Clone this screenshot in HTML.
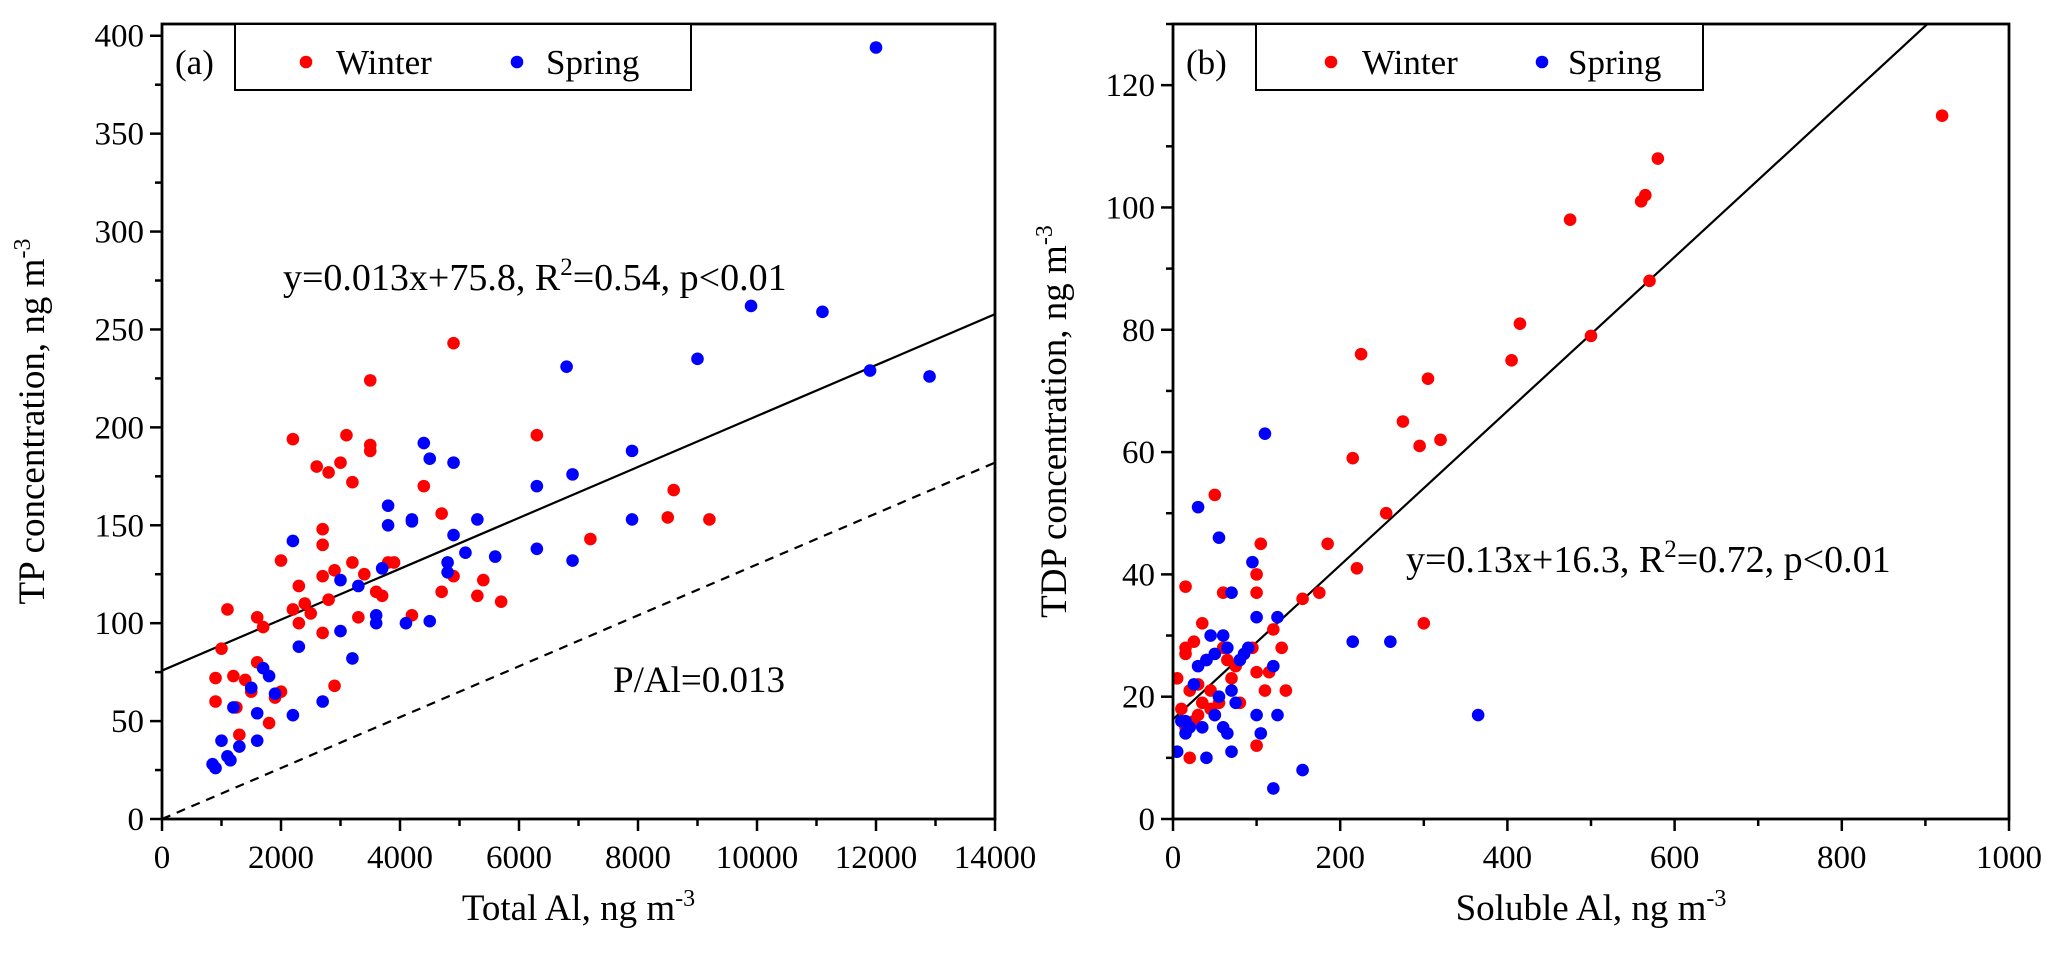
<!DOCTYPE html>
<html><head><meta charset="utf-8"><style>
html,body{margin:0;padding:0;background:#fff;}
svg{display:block;font-family:"Liberation Serif",serif;}
</style></head><body>
<svg id="chart" width="2067" height="967" viewBox="0 0 2067 967" xmlns="http://www.w3.org/2000/svg"></svg>
<script>
const aWinterX=[900,900,1000,1100,1200,1250,1300,1400,1500,1600,1600,1700,1800,1900,2000,2000,2200,2200,2300,2300,2400,2500,2600,2700,2700,2700,2700,2800,2800,2900,2900,3000,3100,3200,3200,3300,3400,3500,3500,3500,3600,3700,3800,3900,4200,4400,4700,4700,4900,4900,5300,5400,5700,6300,7200,8500,8600,9200];
const aWinterY=[72,60,87,107,73,57,43,71,65,103,80,98,49,62,132,65,194,107,119,100,110,105,180,140,124,148,95,177,112,68,127,182,196,172,131,103,125,188,191,224,116,114,131,131,104,170,156,116,124,243,114,122,111,196,143,154,168,153];
const aSpringX=[850,900,1000,1100,1150,1200,1300,1500,1600,1600,1700,1800,1900,2200,2200,2300,2700,3000,3000,3200,3300,3600,3600,3700,3800,3800,4100,4200,4200,4400,4500,4500,4800,4800,4900,4900,5100,5300,5600,6300,6300,6800,6900,6900,7900,7900,9000,9900,11100,11900,12000,12900];
const aSpringY=[28,26,40,32,30,57,37,67,40,54,77,73,64,142,53,88,60,122,96,82,119,100,104,128,160,150,100,153,152,192,184,101,131,126,182,145,136,153,134,170,138,231,176,132,188,153,235,262,259,229,394,226];
const bWinterX=[5,10,15,15,15,15,20,20,25,25,30,30,35,35,40,45,45,50,50,55,60,60,65,70,75,80,95,100,100,100,100,105,110,115,120,130,135,155,175,185,215,220,225,255,275,295,300,305,320,405,415,475,500,560,565,570,580,920];
const bWinterY=[23,18,38,28,27,15,10,21,29,16,22,17,19,32,26,21,18,53,17,19,37,28,26,23,25,19,28,40,37,24,12,45,21,24,31,28,21,36,37,45,59,41,76,50,65,61,32,72,62,75,81,98,79,101,102,88,108,115];
const bSpringX=[5,10,15,15,20,25,30,30,35,40,40,45,50,50,55,55,60,60,65,65,70,70,70,75,80,85,90,95,100,100,105,110,120,125,125,155,215,260,365,120];
const bSpringY=[11,16,16,14,15,22,51,25,15,26,10,30,27,17,20,46,15,30,28,14,37,11,21,19,26,27,28,42,17,33,14,63,25,33,17,8,29,29,17,5];
const aXTicks=[0,2000,4000,6000,8000,10000,12000,14000];
const aYTicks=[0,50,100,150,200,250,300,350,400];
const bXTicks=[0,200,400,600,800,1000];
const bYTicks=[0,20,40,60,80,100,120];

const NS="http://www.w3.org/2000/svg";
const svg=document.getElementById('chart');
function mk(tag,attrs,parent,text){const e=document.createElementNS(NS,tag);for(const k in attrs)e.setAttribute(k,attrs[k]);if(text!==undefined)e.textContent=text;(parent||svg).appendChild(e);return e;}

function panel(o){
  const g=mk('g',{});
  
  
  const sx=v=>o.L+(v-o.x0)/(o.x1-o.x0)*(o.R-o.L);
  const sy=v=>o.B-(v-o.y0)/(o.y1-o.y0)*(o.B-o.T);
  const cid=o.name+'-clip';
  const d=mk('defs',{},g);const cp=mk('clipPath',{id:cid},d);mk('rect',{x:o.L,y:o.T,width:o.R-o.L,height:o.B-o.T},cp);
  for(let v=o.x0;v<=o.x1+1e-9;v+=o.xMinor){const x=sx(v);const major=Math.abs(v/o.xMajor-Math.round(v/o.xMajor))<1e-6;
    const t=mk('line',{x1:x,x2:x,y1:o.B,y2:o.B+(major?12:7),stroke:'#000','stroke-width':2.5},g);
    }
  o.xTicks.forEach(v=>{const t=mk('text',{x:sx(v),y:o.B+49,'font-size':33,'text-anchor':'middle'},g,String(v));
    });
  for(let v=o.y0;v<=o.y1+1e-9;v+=o.yMinor){const y=sy(v);const major=Math.abs(v/o.yMajor-Math.round(v/o.yMajor))<1e-6;
    const t=mk('line',{x1:o.L-(major?12:7),x2:o.L,y1:y,y2:y,stroke:'#000','stroke-width':2.5},g);
    }
  o.yTicks.forEach(v=>{const t=mk('text',{x:o.L-18,y:sy(v)+11,'font-size':33,'text-anchor':'end'},g,String(v));
    });
  const lg=mk('g',{'clip-path':'url(#'+cid+')'},g);
  o.lines.forEach(l=>{const e=mk('line',{x1:sx(o.x0),y1:sy(l.b),x2:sx(o.x1),y2:sy(l.b+l.m*o.x1),stroke:'#000','stroke-width':2.2,'stroke-dasharray':l.dash||'none'},lg);
    });
  o.series.forEach(s=>{s.x.forEach((xv,i)=>{const c=mk('circle',{cx:sx(xv),cy:sy(s.y[i]),r:6.3,fill:s.color},lg);
    });});
  const bx=mk('rect',{x:o.L,y:o.T,width:o.R-o.L,height:o.B-o.T,fill:'none',stroke:'#000','stroke-width':2.8},g);
  
  const lgd=mk('g',{},g);
  mk('rect',{x:o.leg[0],y:o.T,width:o.leg[1],height:66,fill:'#fff',stroke:'#000','stroke-width':2},lgd);
  mk('circle',{cx:o.leg[2],cy:62,r:6.3,fill:'red'},lgd);
  const w=mk('text',{x:o.leg[3],y:74,'font-size':35},lgd,'Winter');
  mk('circle',{cx:o.leg[4],cy:62,r:6.3,fill:'blue'},lgd);
  const s=mk('text',{x:o.leg[5],y:74,'font-size':35},lgd,'Spring');
  const pl=mk('text',{x:o.L+13,y:74,'font-size':35},g,o.label);
  const xt=mk('text',{x:(o.L+o.R)/2,y:920,'font-size':37,'text-anchor':'middle'},g);
  
  xt.innerHTML=o.xTitle+', ng m<tspan dy="-14" font-size="24">-3</tspan>';
  const yt=mk('text',{transform:'translate('+o.yTitleX+','+((o.T+o.B)/2)+') rotate(-90)','font-size':37,'text-anchor':'middle'},g);
  
  yt.innerHTML=o.yTitle+', ng m<tspan dy="-14" font-size="24">-3</tspan>';
  const eq=mk('text',{x:o.eq[0],y:o.eq[1],'font-size':38},g);
  
  eq.innerHTML=o.eqA+'R<tspan dy="-15" font-size="25">2</tspan><tspan dy="15">'+o.eqB+'</tspan>';
  return {sx,sy,g};
}
const A=panel({name:'panel-a',L:162,R:995,T:24,B:819,x0:0,x1:14000,y0:0,y1:406,xMajor:2000,xMinor:1000,yMajor:50,yMinor:25,
  xTicks:aXTicks,yTicks:aYTicks,label:'(a)',leg:[235,456,306,336,517,546],
  lines:[{m:0.013,b:75.8,name:'regression-line'},{m:0.013,b:0,dash:'9,7',name:'p-al-ratio-line'}],
  series:[{x:aWinterX,y:aWinterY,color:'red',name:'winter'},{x:aSpringX,y:aSpringY,color:'blue',name:'spring'}],
  xTitle:'Total Al',yTitle:'TP concentration',yTitleX:44,eq:[283,290],eqA:'y=0.013x+75.8, ',eqB:'=0.54, p&lt;0.01'});
const pa=mk('text',{x:613,y:692,'font-size':37},A.g,'P/Al=0.013');

panel({name:'panel-b',L:1173,R:2009,T:24,B:819,x0:0,x1:1000,y0:0,y1:130,xMajor:200,xMinor:100,yMajor:20,yMinor:10,
  xTicks:bXTicks,yTicks:bYTicks,label:'(b)',leg:[1256,447,1331,1362,1542,1568],
  lines:[{m:0.126,b:16.3,name:'regression-line'}],
  series:[{x:bWinterX,y:bWinterY,color:'red',name:'winter'},{x:bSpringX,y:bSpringY,color:'blue',name:'spring'}],
  xTitle:'Soluble Al',yTitle:'TDP concentration',yTitleX:1066,eq:[1406,572],eqA:'y=0.13x+16.3, ',eqB:'=0.72, p&lt;0.01'});
</script>
</body></html>
